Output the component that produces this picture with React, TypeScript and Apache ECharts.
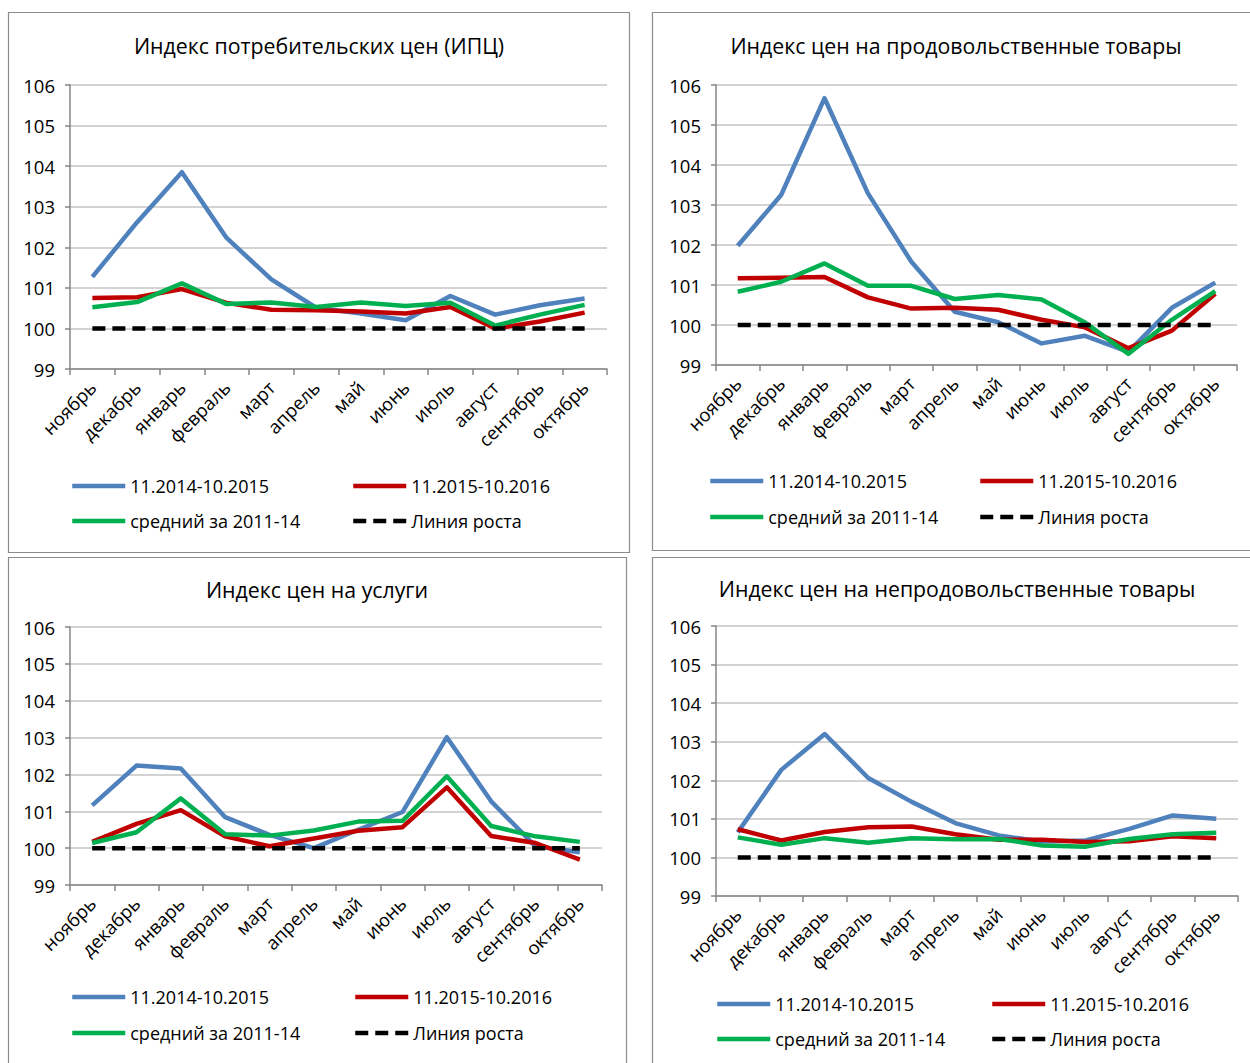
import React, { useEffect, useRef } from "react";
import * as echarts from "echarts";

const months = ["ноябрь", "декабрь", "январь", "февраль", "март", "апрель", "май", "июнь", "июль", "август", "сентябрь", "октябрь"];
const seriesNames = ["11.2014-10.2015", "11.2015-10.2016", "средний за 2011-14", "Линия роста"];
const titles = [
  "Индекс потребительских цен (ИПЦ)",
  "Индекс цен на продовольственные товары",
  "Индекс цен на услуги",
  "Индекс цен на непродовольственные товары",
];
const yTicks = [99, 100, 101, 102, 103, 104, 105, 106];

// ИПЦ
const cpiA = [101.27, 102.62, 103.85, 102.23, 101.21, 100.51, 100.37, 100.2, 100.8, 100.34, 100.57, 100.74];
const cpiB = [100.75, 100.77, 100.97, 100.63, 100.46, 100.45, 100.42, 100.37, 100.53, 100.0, 100.17, 100.39];
const cpiC = [100.52, 100.65, 101.11, 100.6, 100.64, 100.53, 100.64, 100.55, 100.63, 100.07, 100.34, 100.58];
// Продовольственные
const foodA = [101.98, 103.25, 105.67, 103.29, 101.58, 100.33, 100.07, 99.54, 99.73, 99.33, 100.43, 101.06];
const foodB = [101.17, 101.18, 101.2, 100.69, 100.41, 100.43, 100.38, 100.13, 99.94, 99.42, 99.86, 100.78];
const foodC = [100.83, 101.08, 101.54, 100.98, 100.98, 100.65, 100.75, 100.64, 100.06, 99.28, 100.13, 100.85];
// Услуги
const servA = [101.16, 102.24, 102.16, 100.84, 100.36, 100.0, 100.5, 100.98, 103.01, 101.27, 100.05, 99.89];
const servB = [100.17, 100.66, 101.03, 100.32, 100.05, 100.26, 100.47, 100.57, 101.65, 100.33, 100.14, 99.69];
const servC = [100.14, 100.43, 101.35, 100.38, 100.34, 100.48, 100.72, 100.74, 101.95, 100.6, 100.32, 100.17];
// Непродовольственные
const nonfoodA = [100.65, 102.27, 103.2, 102.06, 101.44, 100.89, 100.57, 100.41, 100.44, 100.74, 101.09, 101.0];
const nonfoodB = [100.73, 100.44, 100.66, 100.78, 100.8, 100.6, 100.46, 100.46, 100.4, 100.42, 100.55, 100.5];
const nonfoodC = [100.52, 100.33, 100.5, 100.38, 100.5, 100.47, 100.48, 100.31, 100.28, 100.48, 100.6, 100.64];
// Линия роста
const growthLine = [100, 100, 100, 100, 100, 100, 100, 100, 100, 100, 100, 100];

const panelData = [
  [cpiA, cpiB, cpiC, growthLine],
  [foodA, foodB, foodC, growthLine],
  [servA, servB, servC, growthLine],
  [nonfoodA, nonfoodB, nonfoodC, growthLine],
];

const FONT = "'Open Sans', 'Noto Sans', sans-serif";
const colors = ["#4F81BD", "#C00000", "#00B050", "#000000"];

// layout
const grids = [
  { left: 70, top: 85, width: 537, height: 284 },
  { left: 716, top: 85, width: 521, height: 280 },
  { left: 70, top: 627, width: 532, height: 258 },
  { left: 716, top: 626, width: 522, height: 270 },
];
const borders = [
  { x: 8.5, y: 12.5, width: 621, height: 540 },
  { x: 652.5, y: 12.5, width: 640, height: 538 },
  { x: 8.5, y: 557.5, width: 618, height: 540 },
  { x: 652.5, y: 557.5, width: 640, height: 540 },
];
const titlePos = [
  { x: 319, y: 45 },
  { x: 956, y: 45 },
  { x: 317, y: 589 },
  { x: 957, y: 588 },
];
const legendPos = [
  { c1: 70, c2: 351, r1: 487, r2: 522 },
  { c1: 708, c2: 978, r1: 482, r2: 518 },
  { c1: 70, c2: 353, r1: 998, r2: 1034 },
  { c1: 715, c2: 990, r1: 1005, r2: 1040 },
];

function buildOption() {
  const xAxis: any[] = [];
  const yAxis: any[] = [];
  const series: any[] = [];
  const legend: any[] = [];
  const graphic: any[] = [];

  grids.forEach((g, i) => {
    xAxis.push({
      type: "category",
      gridIndex: i,
      data: months,
      boundaryGap: true,
      axisLine: { show: true, lineStyle: { color: "#868686", width: 1.5 } },
      axisTick: { show: true, length: 6, lineStyle: { color: "#868686", width: 1.5 } },
      axisLabel: {
        interval: 0,
        rotate: 45,
        fontSize: 18.5,
        color: "#000",
        fontFamily: FONT,
        margin: 15,
      },
      splitLine: { show: false },
    });
    yAxis.push({
      type: "value",
      gridIndex: i,
      min: yTicks[0],
      max: yTicks[yTicks.length - 1],
      interval: 1,
      axisLine: { show: true, lineStyle: { color: "#868686", width: 1.5 } },
      axisTick: { show: true, length: 5, lineStyle: { color: "#868686", width: 1.5 } },
      axisLabel: { fontSize: 18.5, color: "#000", fontFamily: FONT, margin: 15 },
      splitLine: { show: true, lineStyle: { color: "#C4C4C4", width: 1.5 } },
    });
    panelData[i].forEach((arr, k) => {
      series.push({
        type: "line",
        name: seriesNames[k],
        xAxisIndex: i,
        yAxisIndex: i,
        data: arr,
        symbol: "none",
        showSymbol: false,
        lineStyle: {
          color: colors[k],
          width: 4.5,
          type: k === 3 ? [13, 7] : "solid",
          cap: "butt",
          join: "round",
        },
        itemStyle: { color: colors[k] },
        z: 2 + k,
      });
    });
    const lp = legendPos[i];
    const items = [
      { name: seriesNames[0], left: lp.c1, top: lp.r1 },
      { name: seriesNames[1], left: lp.c2, top: lp.r1 },
      { name: seriesNames[2], left: lp.c1, top: lp.r2 },
      { name: seriesNames[3], left: lp.c2, top: lp.r2 },
    ];
    items.forEach((it) => {
      legend.push({
        data: [it.name],
        left: it.left,
        top: it.top - 10,
        padding: 0,
        itemWidth: 53,
        itemHeight: 20,
        itemGap: 0,
        selectedMode: false,
        itemStyle: { opacity: 0, borderWidth: 0 },
        lineStyle: { width: 4.5 },
        textStyle: { fontSize: 18, color: "#000", fontFamily: FONT },
      });
    });
    const b = borders[i];
    graphic.push({
      type: "rect",
      shape: { x: b.x, y: b.y, width: b.width, height: b.height },
      style: { fill: "none", stroke: "#8C8C8C", lineWidth: 1.2 },
      silent: true,
      z: -10,
    });
    graphic.push({
      type: "text",
      x: titlePos[i].x,
      y: titlePos[i].y,
      style: {
        text: titles[i],
        align: "center",
        verticalAlign: "middle",
        fontSize: 21.3,
        fontFamily: FONT,
        fill: "#000",
      },
      silent: true,
    });
  });

  return {
    animation: false,
    backgroundColor: "#ffffff",
    grid: grids.map((g) => ({ ...g, containLabel: false })),
    xAxis,
    yAxis,
    series,
    legend,
    graphic,
  };
}

export default function App() {
  const ref = useRef<HTMLDivElement>(null);
  useEffect(() => {
    if (!ref.current) return;
    const chart = echarts.init(ref.current, undefined, { renderer: "svg" });
    chart.setOption(buildOption() as any);
    return () => chart.dispose();
  }, []);
  return (
    <div
      ref={ref}
      style={{ position: "fixed", left: 0, top: 0, width: 1250, height: 1063, background: "#fff" }}
    />
  );
}
